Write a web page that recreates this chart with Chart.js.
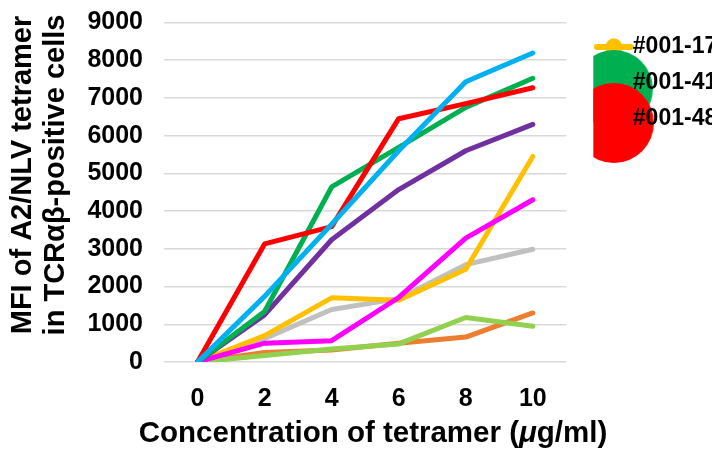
<!DOCTYPE html>
<html><head><meta charset="utf-8">
<script src="https://cdn.jsdelivr.net/npm/chart.js@4"></script>
<style>html,body{margin:0;padding:0;background:#fff;overflow:hidden}#wrap{width:728px;height:452px;position:relative}</style>
</head><body><div id="wrap"><canvas id="c"></canvas></div>
<script>
// ---- data ----
const categories = ['0', '2', '4', '6', '8', '10'];
const yTicks = [0, 1000, 2000, 3000, 4000, 5000, 6000, 7000, 8000, 9000];
const legendLabels = ['#001-17', '#001-41', '#001-48'];
const s001_17 = [0, 700, 1700, 1640, 2460, 5450];      // yellow
const s001_41 = [0, 1340, 4640, 5690, 6750, 7520];     // green
const s001_48 = [0, 3130, 3590, 6450, 6850, 7270];     // red
const sBlue = [0, 1740, 3650, 5600, 7430, 8190];
const sPurple = [0, 1250, 3240, 4570, 5600, 6300];
const sMagenta = [0, 500, 565, 1710, 3285, 4300];
const sGray = [0, 620, 1390, 1680, 2580, 2990];
const sOrange = [0, 250, 320, 500, 660, 1300];
const sLightGreen = [0, 170, 345, 480, 1180, 950];

const FONT = "'Liberation Sans', Arial, Helvetica, sans-serif";

function iconLine(color) {
  const c = document.createElement('canvas'); c.width = 44; c.height = 22;
  const g = c.getContext('2d');
  g.strokeStyle = color; g.lineWidth = 6; g.lineCap = 'round';
  g.beginPath(); g.moveTo(5, 11); g.lineTo(39, 11); g.stroke();
  g.fillStyle = color; g.beginPath(); g.arc(22, 11, 8.5, 0, Math.PI * 2); g.fill();
  return c;
}
function iconDisc(color, r, dy) {
  const c = document.createElement('canvas'); c.width = 2 * r + 4; c.height = 2 * (r + Math.abs(dy)) + 4;
  const g = c.getContext('2d');
  g.fillStyle = color; g.beginPath(); g.arc(c.width / 2, c.height / 2 + dy, r, 0, Math.PI * 2); g.fill();
  return c;
}

function ds(label, data, color, icon) {
  return {
    label, data, borderColor: color, backgroundColor: color,
    borderWidth: 5, pointRadius: 0, pointHoverRadius: 0, tension: 0,
    borderCapStyle: 'round', borderJoinStyle: 'round', fill: false,
    pointStyle: icon || 'line'
  };
}

const titlesPlugin = {
  id: 'titles',
  afterDraw(chart) {
    const ctx = chart.ctx;
    ctx.save();
    ctx.fillStyle = '#000';
    ctx.font = 'bold 29px ' + FONT;
    ctx.textAlign = 'center';
    ctx.textBaseline = 'middle';
    const yLines = ['MFI of A2/NLV tetramer', 'in TCR\u03b1\u03b2-positive cells'];
    const yCenters = [22.5, 55.5];
    yLines.forEach((t, i) => {
      ctx.save();
      ctx.translate(yCenters[i], 175);
      ctx.rotate(-Math.PI / 2);
      ctx.fillText(t, 0, 0);
      ctx.restore();
    });
    const F = 'bold 29.5px ' + FONT, FI = 'italic bold 29.5px ' + FONT;
    const parts = [['Concentration of tetramer (', F], ['\u03bc', FI], ['g/ml)', F]];
    let total = 0;
    const widths = parts.map(p => { ctx.font = p[1]; const w = ctx.measureText(p[0]).width; total += w; return w; });
    let x = 373 - total / 2;
    ctx.textAlign = 'left';
    parts.forEach((p, i) => { ctx.font = p[1]; ctx.fillText(p[0], x, 434); x += widths[i]; });
    ctx.restore();
  }
};

new Chart(document.getElementById('c'), {
  type: 'line',
  data: {
    labels: categories,
    datasets: [
      ds('', sBlue, '#00B0F0'),
      ds(legendLabels[2], s001_48, '#FF0000', iconDisc('#FF0000', 40, 4)),
      ds(legendLabels[1], s001_41, '#00B050', iconDisc('#00B050', 39, 6)),
      ds('', sPurple, '#7030A0'),
      ds('', sMagenta, '#FF00FF'),
      ds(legendLabels[0], s001_17, '#FFC000', iconLine('#FFC000')),
      ds('', sGray, '#C0C0C0'),
      ds('', sLightGreen, '#92D050'),
      ds('', sOrange, '#ED7D31')
    ]
  },
  options: {
    responsive: true, maintainAspectRatio: false, animation: false,
    devicePixelRatio: 1,
    layout: { padding: { top: 22.5, right: 16, left: 0, bottom: 0 } },
    plugins: {
      tooltip: { enabled: false },
      legend: {
        position: 'right', align: 'start',
        labels: {
          usePointStyle: true, pointStyleWidth: 15, padding: 13,
          color: '#000', font: { family: FONT, size: 23, weight: 'bold' },
          filter: item => item.text !== '',
          sort: (a, b) => legendLabels.indexOf(a.text) - legendLabels.indexOf(b.text)
        }
      }
    },
    scales: {
      x: {
        type: 'category',
        offset: true,
        grid: { display: false, drawTicks: false },
        border: { display: false },
        ticks: { color: '#000', padding: 22, font: { family: FONT, size: 25, weight: 'bold' }, maxRotation: 0 },
        afterFit: s => { s.height = 90; }
      },
      y: {
        min: 0, max: 9000,
        afterBuildTicks: s => { s.ticks = yTicks.map(v => ({ value: v })); },
        grid: { color: '#D9D9D9', lineWidth: 1.5, drawTicks: false },
        border: { display: false },
        ticks: { color: '#000', padding: 21, font: { family: FONT, size: 25, weight: 'bold' }, callback: v => String(v) },
        afterFit: s => { s.width = 164; s.paddingTop = 0; s.paddingBottom = 0; }
      },
      gap: {
        type: 'linear', position: 'right', display: true,
        grid: { display: false, drawTicks: false }, border: { display: false },
        ticks: { display: false },
        afterFit: s => { s.width = 27; s.paddingTop = 0; s.paddingBottom = 0; }
      }
    }
  },
  plugins: [titlesPlugin]
});
</script></body></html>
